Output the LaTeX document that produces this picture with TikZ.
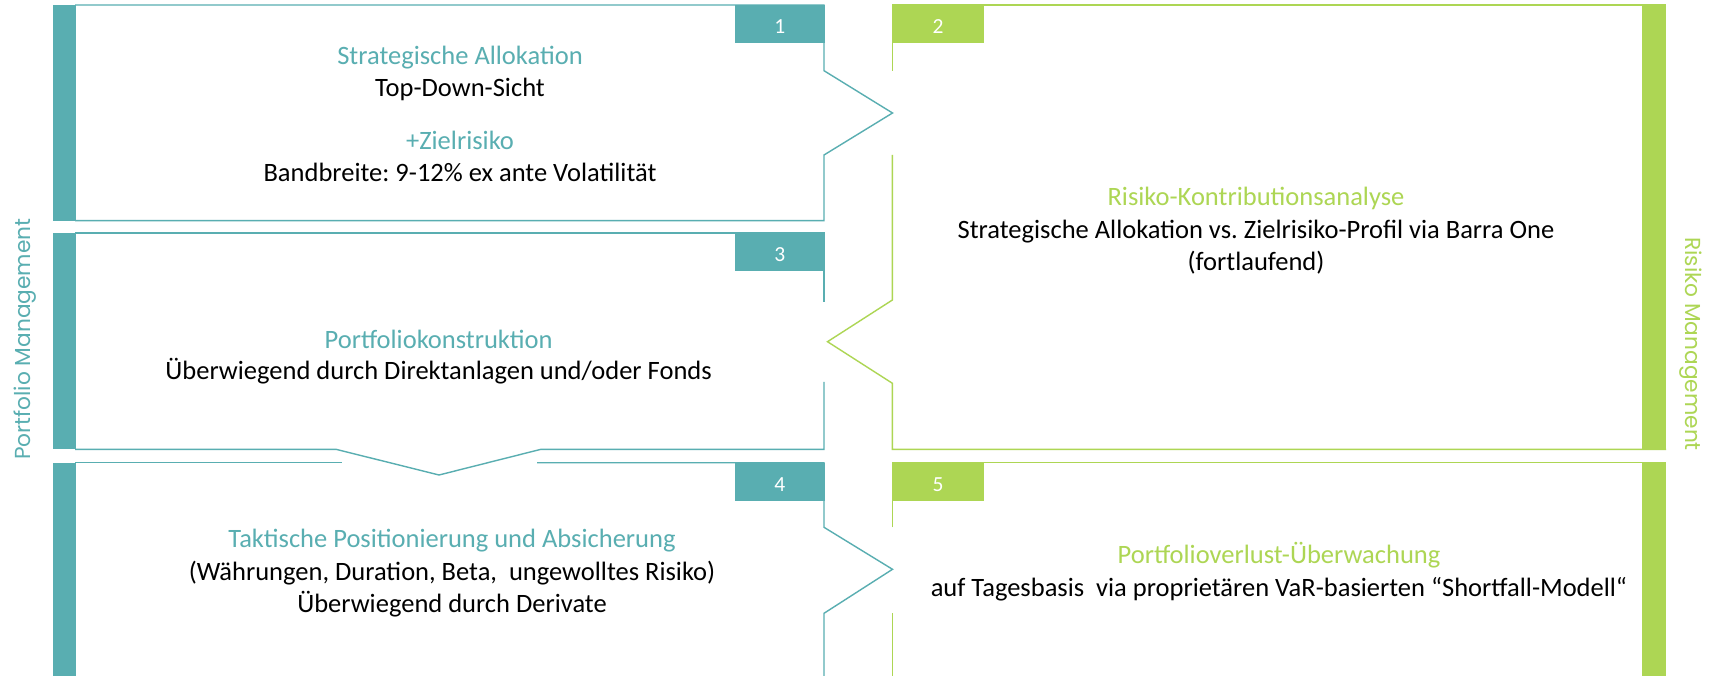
\documentclass[tikz,border=0pt]{standalone}
\usepackage{fontspec}
\setmainfont{Carlito}
\newfontfamily\popfont{Poppins}
\definecolor{tealc}{RGB}{89,174,177}
\definecolor{greenc}{RGB}{173,214,84}
\frenchspacing
\begin{document}
\frenchspacing
\begin{tikzpicture}[x=1pt,y=-1pt,
  every node/.style={inner sep=0pt, outer sep=0pt},
  tealline/.style={draw=tealc, line width=1.4pt},
  greenline/.style={draw=greenc, line width=1.4pt},
  tealfill/.style={fill=tealc},
  greenfill/.style={fill=greenc},
  bodytxt/.style={font=\fontsize{26.5}{32}\selectfont\frenchspacing, anchor=base},
  headT/.style={bodytxt, text=tealc},
  headG/.style={bodytxt, text=greenc},
  tabtxt/.style={font=\fontsize{21.5}{24}\selectfont, text=white, anchor=base},
  sidetxt/.style={font=\popfont\fontsize{21.7}{26}\selectfont, anchor=base}]
\useasboundingbox (0,0) rectangle (1717,676);
\clip (0,0) rectangle (1717,676);
\fill[white] (0,0) rectangle (1717,676);

% ---------- Box 1 ----------
\draw[tealline] (75,5) -- (824,5) -- (824,70.7) -- (892.5,113) -- (824,155) -- (824,220.7) -- (75,220.7);
\fill[tealfill] (52.8,5) rectangle (75.8,220.7);
\fill[tealfill] (735,5) rectangle (824.7,43);
\node[tabtxt] (n1) at (779.8,33.5) {1};

% ---------- Box 3 ----------
\draw[tealline] (75,233) -- (824,233) -- (824,302);
\draw[tealline] (824,382) -- (824,449.3) -- (541,449.3) -- (439,475) -- (336,449.3) -- (75,449.3);
\fill[tealfill] (52.8,233) rectangle (75.8,449.3);
\fill[tealfill] (735,233) rectangle (824.7,271.5);
\node[tabtxt] (n3) at (779.8,261.7) {3};

% ---------- Box 2 ----------
\draw[greenline] (892.4,70.7) -- (892.4,5) -- (1666,5);
\draw[greenline] (892.4,155) -- (892.4,300) -- (827.5,341.7) -- (892.4,383.3) -- (892.4,449.3) -- (1666,449.3);
\fill[greenfill] (1642,5) rectangle (1666,449.3);
\fill[greenfill] (891.7,5) rectangle (984,43);
\node[tabtxt] (n2) at (938,33.5) {2};

% ---------- Box 4 ----------
\draw[tealline] (75,462.7) -- (342,462.7);
\draw[tealline] (537,462.7) -- (824,462.7) -- (824,527.3) -- (892.5,569.3) -- (824,613.3) -- (824,690);
\fill[tealfill] (52.8,462.7) rectangle (75.8,690);
\fill[tealfill] (735,462.7) rectangle (824.7,500.7);
\node[tabtxt] (n4) at (779.8,491.2) {4};

% ---------- Box 5 ----------
\draw[greenline] (892.4,690) -- (892.4,613.3);
\draw[greenline] (892.4,527.3) -- (892.4,462.7) -- (1666,462.7);
\fill[greenfill] (1642,462.7) rectangle (1666,690);
\fill[greenfill] (891.7,462.7) rectangle (984,500.7);
\node[tabtxt] (n5) at (938,491.2) {5};

% ---------- Texts ----------
\node[headT] (a1) at (460,64.5) {Strategische Allokation};
\node[bodytxt] (a2) at (460,96.5) {Top-Down-Sicht};
\node[headT] (a3) at (460,149.5) {+Zielrisiko};
\node[bodytxt] (a4) at (460,181.5) {Bandbreite: 9-12\% ex ante Volatilität};

\node[headG] (b1) at (1256,206) {Risiko-Kontributionsanalyse};
\node[bodytxt] (b2) at (1256,238.5) {Strategische Allokation vs. Zielrisiko-Profil via Barra One};
\node[bodytxt] (b3) at (1256,270.5) {(fortlaufend)};

\node[headT] (c1) at (438.6,348.2) {Portfoliokonstruktion};
\node[bodytxt] (c2) at (438.6,380) {Überwiegend durch Direktanlagen und/oder Fonds};

\node[headT] (d1) at (452,547) {Taktische Positionierung und Absicherung};
\node[bodytxt] (d2) at (452,580.3) {(Währungen, Duration, Beta,\ \ ungewolltes Risiko)};
\node[bodytxt] (d3) at (452,612) {Überwiegend durch Derivate};

\node[headG] (e1) at (1279,563) {Portfolioverlust-Überwachung};
\node[bodytxt] (e2) at (1279,596.3) {auf Tagesbasis\ \ via proprietären VaR-basierten “Shortfall-Modell“};

% ---------- Side labels ----------
\node[sidetxt, text=tealc, rotate=90] (pm) at (30.7,339.2) {Portfolio Management};
\node[sidetxt, text=greenc, rotate=-90] (rm) at (1685,344) {Risiko Management};
\end{tikzpicture}
\end{document}
